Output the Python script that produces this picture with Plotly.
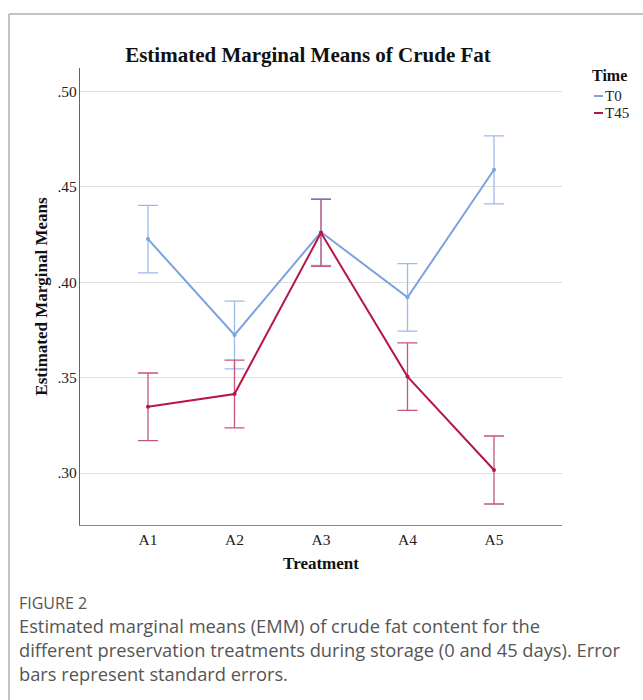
import plotly.graph_objects as go

treatments = ["A1", "A2", "A3", "A4", "A5"]
t0_mean = [0.4225, 0.3723, 0.4262, 0.3920, 0.4588]
t0_se = [0.0177, 0.0177, 0.0175, 0.0177, 0.0178]
t45_mean = [0.3347, 0.3414, 0.4258, 0.3505, 0.3016]
t45_se = [0.0177, 0.0177, 0.0175, 0.0177, 0.0178]
y_ticks = [0.30, 0.35, 0.40, 0.45, 0.50]
y_tick_labels = [".30", ".35", ".40", ".45", ".50"]
series_names = ["T0", "T45"]

BLUE = "#7ba3e0"
BLUE_ERR = "#9dbbe8"
RED = "#b5174b"
RED_ERR = "#c4577a"
SERIF = "Liberation Serif"

L, R, T, B = 80, 562, 68, 525  # plot area in pixels
W, H = 643, 700


def px(x):
    return (x - L) / (R - L)


def py(y):
    return (B - y) / (B - T)


fig = go.Figure()
fig.add_trace(go.Scatter(
    x=treatments, y=t0_mean, name=series_names[0], mode="lines+markers",
    line=dict(color=BLUE, width=2), marker=dict(size=4, color=BLUE),
    error_y=dict(type="data", array=t0_se, visible=True, color=BLUE_ERR, thickness=1.3, width=10),
))
fig.add_trace(go.Scatter(
    x=treatments, y=t45_mean, name=series_names[1], mode="lines+markers",
    line=dict(color=RED, width=2), marker=dict(size=4, color=RED),
    error_y=dict(type="data", array=t45_se, visible=True, color=RED_ERR, thickness=1.3, width=10),
))

fig.update_layout(
    width=W, height=H,
    margin=dict(l=L, r=W - R, t=T, b=H - B),
    paper_bgcolor="white", plot_bgcolor="white",
    showlegend=False,
    font=dict(family=SERIF, color="#222", size=15),
    title=dict(text="<b>Estimated Marginal Means of Crude Fat</b>", x=308 / W, xanchor="center",
               y=1 - 55 / H, yanchor="middle", font=dict(family=SERIF, size=21, color="#111")),
)
fig.update_xaxes(
    type="category", range=[-0.786, 4.786], showgrid=False,
    showline=True, linecolor="#888", linewidth=1.2, ticks="",
    tickfont=dict(family=SERIF, size=15.5, color="#222"),
    title=dict(text="<b>Treatment</b>", font=dict(family=SERIF, size=17, color="#111"), standoff=10),
)
fig.update_yaxes(
    range=[0.2728, 0.5121], tickvals=y_ticks, ticktext=y_tick_labels,
    showgrid=True, gridcolor="#dedede", gridwidth=1, zeroline=False,
    showline=True, linecolor="#666", linewidth=1.2, ticks="", ticklabelstandoff=-1,
    tickfont=dict(family=SERIF, size=15.5, color="#222"),
    title=dict(text="<b>Estimated Marginal Means</b>", font=dict(family=SERIF, size=17, color="#111"), standoff=5),
)

# Legend built from annotations and short line shapes
fig.add_annotation(xref="paper", yref="paper", x=px(609), y=py(75),
                   text="<b>Time</b>", showarrow=False, xanchor="center", yanchor="middle",
                   font=dict(family=SERIF, size=16, color="#111"))
for i, (nm, col) in enumerate(zip(series_names, [BLUE, RED])):
    yy = 96 + 17 * i
    fig.add_shape(type="line", xref="paper", yref="paper", x0=px(594), x1=px(603),
                  y0=py(yy), y1=py(yy), line=dict(color=col, width=2))
    fig.add_annotation(xref="paper", yref="paper", x=px(603), y=py(yy),
                       text=nm, showarrow=False, xanchor="left", yanchor="middle",
                       font=dict(family=SERIF, size=15, color="#222"))

# Frame lines
fig.add_shape(type="line", xref="paper", yref="paper",
              x0=px(9), x1=px(650), y0=py(14), y1=py(14),
              line=dict(color="#b0b0b0", width=1.5))
fig.add_shape(type="line", xref="paper", yref="paper",
              x0=px(9), x1=px(9), y0=py(14), y1=py(705),
              line=dict(color="#b0b0b0", width=1.5))

# Caption
CAP = "Open Sans"
fig.add_annotation(xref="paper", yref="paper", x=px(17), y=py(603),
                   text="FIGURE 2", showarrow=False, xanchor="left", yanchor="middle",
                   font=dict(family=CAP, size=16, color="#555"))
caption_lines = [
    "Estimated marginal means (EMM) of crude fat content for the",
    "different preservation treatments during storage (0 and 45 days). Error",
    "bars represent standard errors.",
]
for i, line in enumerate(caption_lines):
    fig.add_annotation(xref="paper", yref="paper", x=px(17), y=py(625 + 24 * i),
                       text=line, showarrow=False, xanchor="left", yanchor="middle",
                       font=dict(family=CAP, size=18.3, color="#555"))

fig.write_html("out.html", config={"displayModeBar": False},
               post_script="document.body.style.margin='0';")
